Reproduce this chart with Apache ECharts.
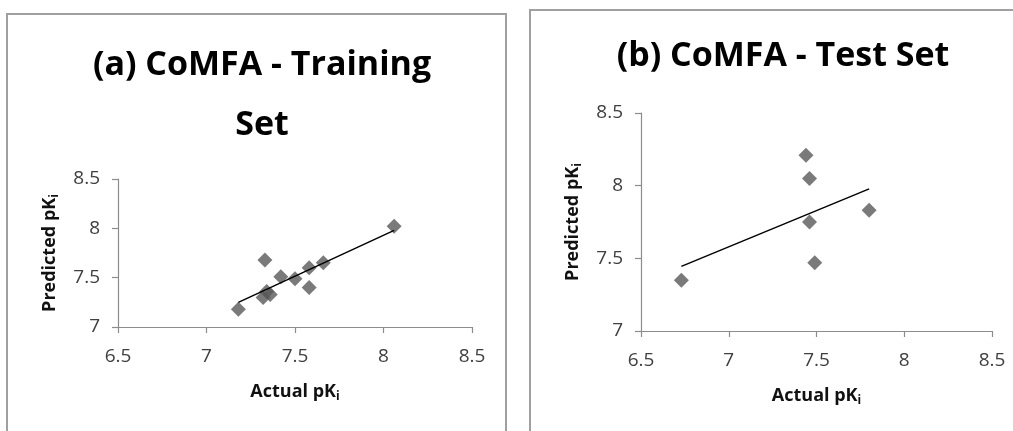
<!DOCTYPE html>
<html>
<head>
<meta charset="utf-8">
<script src="https://cdn.jsdelivr.net/npm/echarts@6/dist/echarts.min.js"></script>
<style>
html,body{margin:0;padding:0;background:#fff;}
#chart{width:1013px;height:431px;}
</style>
</head>
<body>
<div id="chart"></div>
<script>
// Training set (a)
const trainActual    = [7.18, 7.33, 7.32, 7.36, 7.34, 7.42, 7.50, 7.58, 7.58, 7.66, 8.06];
const trainPredicted = [7.18, 7.68, 7.30, 7.33, 7.36, 7.51, 7.49, 7.60, 7.40, 7.65, 8.02];
// Test set (b)
const testActual     = [6.73, 7.44, 7.46, 7.46, 7.49, 7.80];
const testPredicted  = [7.35, 8.21, 8.05, 7.75, 7.47, 7.83];
// Axes
const axisTicks = [6.5, 7, 7.5, 8, 8.5];
const yTicks = [7, 7.5, 8, 8.5];
const titleA = ['(a) CoMFA - Training', 'Set'];
const titleB = '(b) CoMFA - Test Set';

function fitLine(xs, ys) {
  const n = xs.length;
  const mx = xs.reduce((a, b) => a + b, 0) / n;
  const my = ys.reduce((a, b) => a + b, 0) / n;
  let sxy = 0, sxx = 0;
  for (let i = 0; i < n; i++) { sxy += (xs[i] - mx) * (ys[i] - my); sxx += (xs[i] - mx) ** 2; }
  const k = sxy / sxx, b = my - k * mx;
  const x0 = Math.min(...xs), x1 = Math.max(...xs);
  return [[x0, k * x0 + b], [x1, k * x1 + b]];
}
const pairs = (xs, ys) => xs.map((x, i) => [x, ys[i]]);

const FONT = '"Open Sans", "Noto Sans", sans-serif';
const axisColor = '#8c8c8c';
const labelColor = '#404040';

function xAxis(gridIndex) {
  return {
    type: 'value', gridIndex, min: axisTicks[0], max: axisTicks[axisTicks.length - 1], interval: 0.5,
    axisLine: { show: true, lineStyle: { color: axisColor, width: 1.2 } },
    axisTick: { show: true, length: 6, lineStyle: { color: axisColor, width: 1.2 } },
    splitLine: { show: false },
    axisLabel: { color: labelColor, fontSize: 19, fontFamily: FONT, margin: 20,
      formatter: v => String(v) },
    name: '{t|Actual pK}{s|i}', nameLocation: 'middle', nameGap: 54,
    nameTextStyle: { rich: {
      t: { fontSize: 18, fontWeight: 'bold', color: '#111', fontFamily: FONT },
      s: { fontSize: 12, fontWeight: 'bold', color: '#111', fontFamily: FONT, padding: [10, 0, 0, 0] }
    } }
  };
}
function yAxis(gridIndex) {
  return {
    type: 'value', gridIndex, min: yTicks[0], max: yTicks[yTicks.length - 1], interval: 0.5,
    axisLine: { show: true, lineStyle: { color: axisColor, width: 1.2 } },
    axisTick: { show: true, length: 6, lineStyle: { color: axisColor, width: 1.2 } },
    splitLine: { show: false },
    axisLabel: { color: labelColor, fontSize: 19, fontFamily: FONT, margin: 18,
      formatter: v => String(v) },
    name: '{t|Predicted pK}{s|i}', nameLocation: 'middle', nameGap: 57, nameRotate: 90,
    nameTextStyle: { rich: {
      t: { fontSize: 18, fontWeight: 'bold', color: '#111', fontFamily: FONT },
      s: { fontSize: 12, fontWeight: 'bold', color: '#111', fontFamily: FONT, padding: [10, 0, 0, 0] }
    } }
  };
}

const chart = echarts.init(document.getElementById('chart'), null, { renderer: 'canvas' });
chart.setOption({
  backgroundColor: '#fff',
  animation: false,
  title: [
    { text: titleA.join('\n'), left: 257, top: 30, textAlign: 'center',
      textStyle: { fontSize: 34, fontWeight: 'bold', color: '#000', fontFamily: FONT, lineHeight: 60 } },
    { text: titleB, left: 778, top: 34, textAlign: 'center',
      textStyle: { fontSize: 34, fontWeight: 'bold', color: '#000', fontFamily: FONT } }
  ],
  graphic: [
    { type: 'rect', shape: { x: 7, y: 14, width: 499, height: 440 },
      style: { fill: 'none', stroke: '#a0a0a0', lineWidth: 2 }, z: 0 },
    { type: 'rect', shape: { x: 530, y: 10, width: 500, height: 440 },
      style: { fill: 'none', stroke: '#a0a0a0', lineWidth: 2 }, z: 0 }
  ],
  grid: [
    { left: 118, top: 179, width: 354, height: 148 },
    { left: 641, top: 113, width: 351, height: 218 }
  ],
  xAxis: [xAxis(0), xAxis(1)],
  yAxis: [yAxis(0), yAxis(1)],
  series: [
    { type: 'scatter', xAxisIndex: 0, yAxisIndex: 0, symbol: 'diamond', symbolSize: 15,
      itemStyle: { color: '#595959' }, data: pairs(trainActual, trainPredicted), z: 3 },
    { type: 'line', xAxisIndex: 0, yAxisIndex: 0, showSymbol: false, symbol: 'none',
      lineStyle: { color: '#000', width: 1.5 }, data: fitLine(trainActual, trainPredicted), z: 4 },
    { type: 'scatter', xAxisIndex: 1, yAxisIndex: 1, symbol: 'diamond', symbolSize: 15,
      itemStyle: { color: '#595959' }, data: pairs(testActual, testPredicted), z: 3 },
    { type: 'line', xAxisIndex: 1, yAxisIndex: 1, showSymbol: false, symbol: 'none',
      lineStyle: { color: '#000', width: 1.5 }, data: fitLine(testActual, testPredicted), z: 4 }
  ]
});
</script>
</body>
</html>
